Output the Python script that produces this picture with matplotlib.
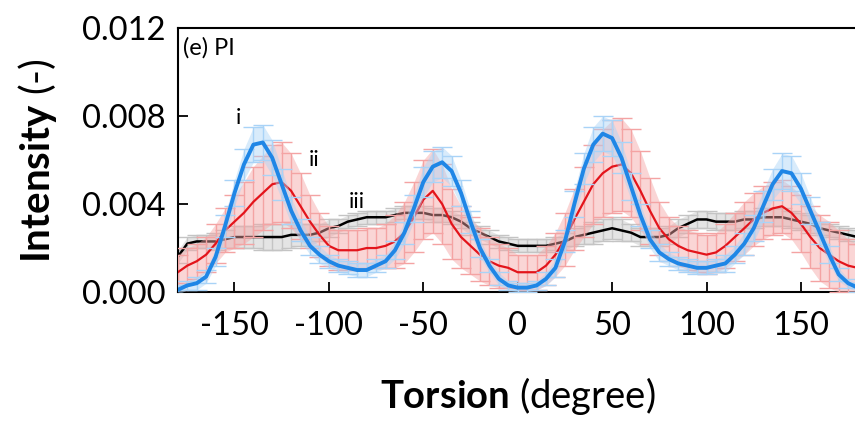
import numpy as np
import matplotlib
matplotlib.use('Agg')
import matplotlib.pyplot as plt

plt.rcParams['font.family'] = ['Lato', 'DejaVu Sans']
plt.rcParams['mathtext.fontset'] = 'custom'
plt.rcParams['mathtext.rm'] = 'Lato'
plt.rcParams['mathtext.bf'] = 'Lato:bold'
plt.rcParams['axes.unicode_minus'] = False

# Torsion angles (degree), every 5 degrees
torsion = list(range(-180, 181, 5))

# Curve i (blue)
i_mean = [0.0001, 0.0003, 0.0004, 0.0007, 0.0016, 0.0030, 0.0045, 0.0058, 0.0067, 0.0068,
          0.0061, 0.0049, 0.0037, 0.0028, 0.0021, 0.0017, 0.0014, 0.0012, 0.0011, 0.0010,
          0.0010, 0.0012, 0.0014, 0.0019, 0.0027, 0.0038, 0.0050, 0.0057, 0.0059, 0.0055,
          0.0045, 0.0032, 0.0020, 0.0012, 0.0006, 0.0003, 0.0002, 0.0002, 0.0003, 0.0006,
          0.0011, 0.0023, 0.0040, 0.0056, 0.0067, 0.0072, 0.0070, 0.0061, 0.0048, 0.0035,
          0.0024, 0.0018, 0.0015, 0.0013, 0.0012, 0.0011, 0.0011, 0.0012, 0.0013, 0.0017,
          0.0022, 0.0029, 0.0039, 0.0049, 0.0055, 0.0054, 0.0047, 0.0037, 0.0027, 0.0017,
          0.0008, 0.0004, 0.0002]
i_err = [0.0002, 0.0002, 0.0003, 0.0003, 0.0004, 0.0005, 0.0006, 0.0007, 0.0008, 0.0008,
         0.0008, 0.0007, 0.0006, 0.0005, 0.0004, 0.0004, 0.0003, 0.0003, 0.0003, 0.0003,
         0.0003, 0.0003, 0.0003, 0.0004, 0.0005, 0.0006, 0.0007, 0.0007, 0.0007, 0.0007,
         0.0006, 0.0005, 0.0004, 0.0003, 0.0003, 0.0002, 0.0002, 0.0002, 0.0002, 0.0003,
         0.0004, 0.0005, 0.0006, 0.0007, 0.0008, 0.0008, 0.0008, 0.0007, 0.0006, 0.0005,
         0.0004, 0.0004, 0.0003, 0.0003, 0.0003, 0.0003, 0.0003, 0.0003, 0.0004, 0.0004,
         0.0005, 0.0006, 0.0007, 0.0007, 0.0008, 0.0008, 0.0007, 0.0006, 0.0005, 0.0004,
         0.0003, 0.0002, 0.0002]

# Curve ii (red)
ii_mean = [0.0009, 0.0012, 0.0014, 0.0017, 0.0022, 0.0028, 0.0032, 0.0036, 0.0041, 0.0045,
           0.0049, 0.0050, 0.0046, 0.0039, 0.0032, 0.0026, 0.0021, 0.0019, 0.0019, 0.0019,
           0.0020, 0.0020, 0.0021, 0.0023, 0.0027, 0.0034, 0.0042, 0.0046, 0.0040, 0.0031,
           0.0025, 0.0021, 0.0017, 0.0014, 0.0012, 0.0011, 0.0009, 0.0009, 0.0009, 0.0012,
           0.0017, 0.0024, 0.0033, 0.0041, 0.0049, 0.0054, 0.0057, 0.0058, 0.0054, 0.0046,
           0.0037, 0.0029, 0.0024, 0.0021, 0.0019, 0.0018, 0.0017, 0.0018, 0.0021, 0.0025,
           0.0029, 0.0033, 0.0036, 0.0038, 0.0039, 0.0036, 0.0031, 0.0025, 0.0020, 0.0017,
           0.0014, 0.0012, 0.0011]
ii_err = [0.0008, 0.0008, 0.0008, 0.0008, 0.0009, 0.0010, 0.0012, 0.0014, 0.0016, 0.0017,
          0.0018, 0.0018, 0.0017, 0.0015, 0.0012, 0.0010, 0.0009, 0.0009, 0.0009, 0.0009,
          0.0009, 0.0009, 0.0010, 0.0012, 0.0014, 0.0016, 0.0018, 0.0019, 0.0018, 0.0016,
          0.0014, 0.0013, 0.0012, 0.0011, 0.0010, 0.0009, 0.0008, 0.0008, 0.0008, 0.0009,
          0.0010, 0.0012, 0.0014, 0.0016, 0.0018, 0.0020, 0.0021, 0.0021, 0.0020, 0.0018,
          0.0015, 0.0012, 0.0010, 0.0009, 0.0009, 0.0009, 0.0009, 0.0009, 0.0010, 0.0011,
          0.0012, 0.0012, 0.0012, 0.0012, 0.0012, 0.0012, 0.0013, 0.0014, 0.0015, 0.0015,
          0.0014, 0.0012, 0.0011]

# Curve iii (black)
iii_mean = [0.0016, 0.0022, 0.0023, 0.0023, 0.0023, 0.0024, 0.0025, 0.0025, 0.0025, 0.0025,
            0.0025, 0.0025, 0.0026, 0.0026, 0.0026, 0.0027, 0.0029, 0.0030, 0.0032, 0.0033,
            0.0034, 0.0034, 0.0034, 0.0035, 0.0036, 0.0036, 0.0036, 0.0035, 0.0035, 0.0034,
            0.0032, 0.0029, 0.0027, 0.0025, 0.0023, 0.0022, 0.0021, 0.0021, 0.0021, 0.0021,
            0.0022, 0.0023, 0.0025, 0.0026, 0.0027, 0.0028, 0.0029, 0.0028, 0.0027, 0.0025,
            0.0025, 0.0025, 0.0026, 0.0029, 0.0031, 0.0033, 0.0033, 0.0032, 0.0032, 0.0032,
            0.0033, 0.0033, 0.0034, 0.0034, 0.0034, 0.0033, 0.0032, 0.0031, 0.0029, 0.0028,
            0.0027, 0.0026, 0.0025]
iii_err = [0.0003, 0.0003, 0.0003, 0.0003, 0.0004, 0.0004, 0.0005, 0.0005, 0.0005, 0.0006,
           0.0006, 0.0006, 0.0006, 0.0005, 0.0005, 0.0004, 0.0004, 0.0003, 0.0003, 0.0003,
           0.0003, 0.0003, 0.0003, 0.0003, 0.0003, 0.0003, 0.0003, 0.0003, 0.0003, 0.0003,
           0.0003, 0.0003, 0.0003, 0.0003, 0.0003, 0.0003, 0.0003, 0.0003, 0.0003, 0.0003,
           0.0003, 0.0004, 0.0004, 0.0004, 0.0005, 0.0005, 0.0005, 0.0005, 0.0004, 0.0004,
           0.0004, 0.0004, 0.0004, 0.0004, 0.0004, 0.0004, 0.0004, 0.0004, 0.0004, 0.0004,
           0.0004, 0.0004, 0.0004, 0.0004, 0.0004, 0.0004, 0.0004, 0.0004, 0.0003, 0.0003,
           0.0003, 0.0003, 0.0003]

fig = plt.figure(figsize=(8.55, 4.32), dpi=100)
ax = fig.add_axes([0.208, 0.324, 0.795, 0.611])

series = [
    (iii_mean, iii_err, 'black', '#c4c4c4', 1.8),
    (ii_mean, ii_err, '#e3141b', '#f4a3a3', 1.6),
    (i_mean, i_err, '#1f86e6', '#a9d3f7', 2.8),
]
# black (iii) at the bottom, blue (i) on top
for z, (m, e, c, ec, lw) in enumerate(series):
    m = np.array(m)
    e = np.array(e)
    ax.fill_between(torsion, m - e, m + e, color=ec, alpha=0.45, lw=0, zorder=z * 3)
    ax.errorbar(torsion, m, yerr=e, color=c, lw=lw, ecolor=ec, elinewidth=1.0,
                capsize=7, capthick=1.0, zorder=z * 3 + 1)

ax.text(-148, 0.0079, 'i', fontsize=16, ha='center', va='center')
ax.text(-108, 0.0060, 'ii', fontsize=16, ha='center', va='center')
ax.text(-85, 0.0041, 'iii', fontsize=16, ha='center', va='center')
ax.text(0.007, 0.965, '(e) PI', transform=ax.transAxes, fontsize=17, ha='left', va='top')

ax.set_xlim(-180, 180)
ax.set_ylim(0, 0.012)
ax.set_xticks([-150, -100, -50, 0, 50, 100, 150])
ax.set_yticks([0, 0.004, 0.008, 0.012])
ax.set_yticklabels(['0.000', '0.004', '0.008', '0.012'])
ax.tick_params(direction='in', length=7, width=1.3, labelsize=23.5, pad=9)
ax.tick_params(axis='x', pad=14)
for s in ax.spines.values():
    s.set_linewidth(1.5)
ax.spines['right'].set_visible(False)

ax.set_xlabel(r'$\mathbf{Torsion}$ (degree)', fontsize=27.5, labelpad=24)
ax.set_ylabel(r'$\mathbf{Intensity}$ (-)', fontsize=29, labelpad=16)

fig.savefig('out.png', dpi=100)
